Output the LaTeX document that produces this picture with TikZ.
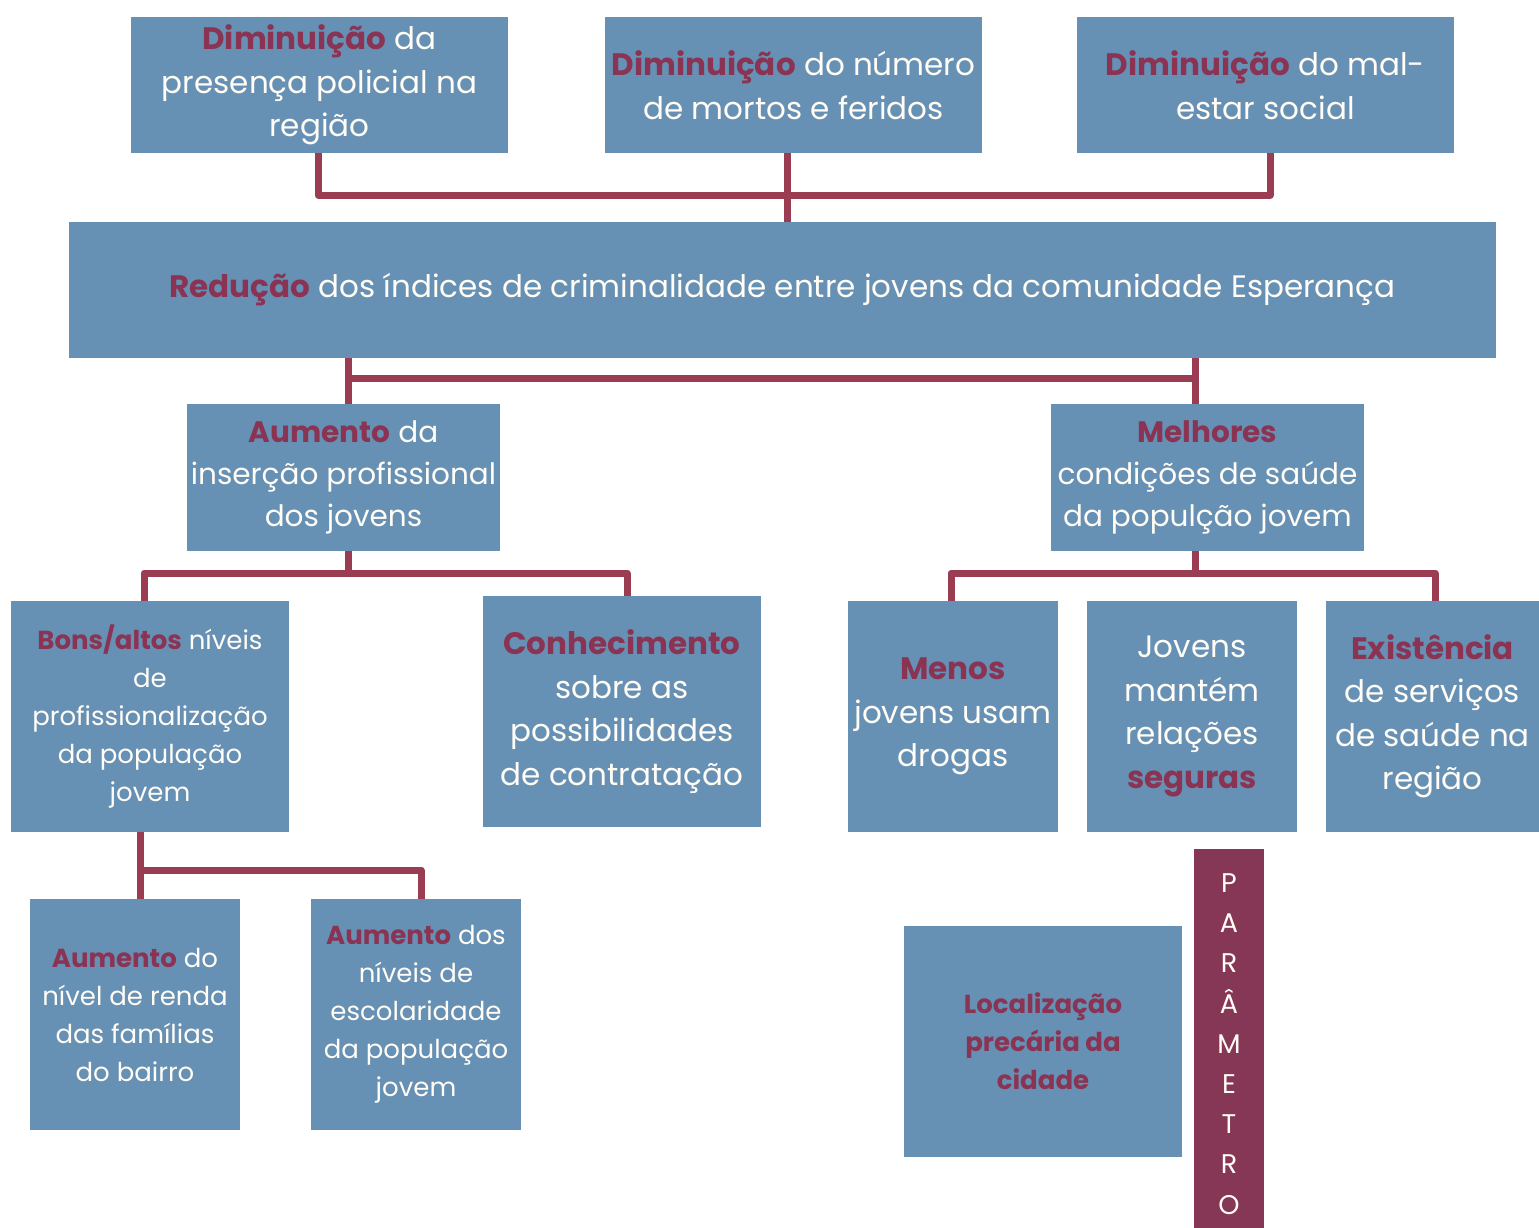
\documentclass[tikz,border=0pt]{standalone}
\usepackage{fontspec}
\setmainfont{Poppins}
\definecolor{boxblue}{HTML}{6790B5}
\definecolor{wine}{HTML}{8A3352}
\definecolor{linkred}{HTML}{9B3D52}
\definecolor{parred}{HTML}{853755}
\definecolor{cream}{HTML}{FFFDF5}
\newcommand{\destaque}[1]{\textcolor{wine}{\textbf{#1}}}

\begin{document}
\begin{tikzpicture}[
    x=1pt, y=-1pt,
    box/.style n args={2}{fill=boxblue, text=cream, align=center, inner sep=0pt,
        minimum width=#1, minimum height=#2},
    big/.style={font=\fontsize{31}{43.5}\selectfont},
    mid/.style={font=\fontsize{29.5}{42}\selectfont},
    small/.style={font=\fontsize{26}{38}\selectfont},
    link/.style={draw=linkred, line width=7pt, line join=round}
]
\useasboundingbox (0,0) rectangle (1539,1228);

\node[box={377}{136}, big] (d1) at (319.5,85) {\destaque{Diminuição} da\\presença policial na\\região};
\node[box={377}{136}, big] (d2) at (793.5,85) {\destaque{Diminuição} do número\\de mortos e feridos};
\node[box={377}{136}, big] (d3) at (1265.5,85) {\destaque{Diminuição} do mal-\\estar social};
\node[box={1427}{136}, big] (red) at (782.5,290) {\destaque{Redução} dos índices de criminalidade entre jovens da comunidade Esperança};
\node[box={313}{147}, mid] (a1) at (343.5,477.5) {\destaque{Aumento} da\\inserção profissional\\dos jovens};
\node[box={313}{147}, mid] (m1) at (1207.5,477.5) {\destaque{Melhores}\\condições de saúde\\da populção jovem};
\node[box={278}{231}, small] (b1) at (150,716.5) {\destaque{Bons/altos} níveis\\de\\profissionalização\\da população\\jovem};
\node[box={278}{231}, big] (c1) at (622,711.5) {\destaque{Conhecimento}\\sobre as\\possibilidades\\de contratação};
\node[box={210}{231}, big] (n1) at (953,716.5) {\destaque{Menos}\\jovens usam\\drogas};
\node[box={210}{231}, big] (n2) at (1192,716.5) {Jovens\\mantém\\relações\\\destaque{seguras}};
\node[box={213}{231}, big] (n3) at (1432.5,716.5) {\destaque{Existência}\\de serviços\\de saúde na\\região};
\node[box={210}{231}, small] (e1) at (135,1014.5) {\destaque{Aumento} do\\nível de renda\\das famílias\\do bairro};
\node[box={210}{231}, small] (e2) at (416,1014.5) {\destaque{Aumento} dos\\níveis de\\escolaridade\\da população\\jovem};
\node[box={278}{231}, small] (loc) at (1043,1041.5) {\destaque{Localização}\\\destaque{precária da}\\\destaque{cidade}};
\node[box={70}{390}, fill=parred, font=\fontsize{27}{40.2}\selectfont] (par) at (1229,1044) {P\\A\\R\\Â\\M\\E\\T\\R\\O};

\coordinate (jd1) at (318,195);
\coordinate (jd2) at (787,195);
\coordinate (jd3) at (1270,195);
\draw[link] (jd1 |- d1.south) -- (jd1) -- (jd3) -- (jd3 |- d3.south);
\draw[link] (jd2 |- d2.south) -- (jd2 |- red.north);

\coordinate (ja) at (348,378);
\coordinate (jm) at (1195,378);
\draw[link] (ja |- red.south) -- (ja |- a1.north);
\draw[link] (jm |- red.south) -- (jm |- m1.north);
\draw[link] (ja) -- (jm);

\coordinate (ka) at (348,573);
\coordinate (jb) at (144,573);
\coordinate (jc) at (627,573);
\draw[link] (ka |- a1.south) -- (ka);
\draw[link] (jb |- b1.north) -- (jb) -- (jc) -- (jc |- c1.north);

\coordinate (km) at (1195,573);
\coordinate (jn) at (951,573);
\coordinate (jx) at (1435,573);
\draw[link] (km |- m1.south) -- (km);
\draw[link] (jn |- n1.north) -- (jn) -- (jx) -- (jx |- n3.north);

\coordinate (je1) at (140,870);
\coordinate (je2) at (421,870);
\draw[link] (je1 |- b1.south) -- (je1 |- e1.north);
\draw[link] (je1) -- (je2) -- (je2 |- e2.north);
\end{tikzpicture}
\end{document}
